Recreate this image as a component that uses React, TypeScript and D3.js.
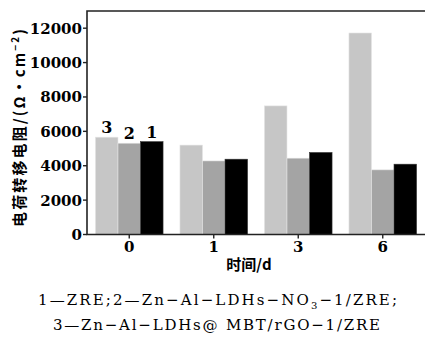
import * as d3 from "d3";

const days = ["0", "1", "3", "6"];
const seriesKeys = ["3", "2", "1"];
const seriesColors = ["#c6c6c6", "#a4a4a4", "#000000"];
// values per day, order: series 3, 2, 1
const series3 = [5660, 5200, 7480, 11720];
const series2 = [5310, 4280, 4440, 3760];
const series1 = [5400, 4380, 4770, 4090];
const yTicks = [0, 2000, 4000, 6000, 8000, 10000, 12000];

const width = 425;
const height = 359;
const plot = { left: 87, right: 425, top: 11, bottom: 234.5 };
const serif = "'DejaVu Serif', 'Liberation Serif', serif";
const cjk = "'Noto Sans CJK SC', sans-serif";

export default function App() {
  const values = [series3, series2, series1];

  const x = d3.scaleBand<string>()
    .domain(days)
    .range([plot.left, plot.right])
    .paddingInner(0.2)
    .paddingOuter(0.1);

  const xInner = d3.scaleBand<string>()
    .domain(seriesKeys)
    .range([0, x.bandwidth()]);

  const y = d3.scaleLinear().domain([0, 13000]).range([plot.bottom, plot.top]);

  return (
    <svg
      width={width}
      height={height}
      style={{ position: "absolute", left: 0, top: 0, background: "#fff" }}
    >
      {/* bars */}
      {days.map((d, i) => (
        <g key={d} transform={`translate(${x(d)},0)`}>
          {seriesKeys.map((k, j) => (
            <rect
              key={k}
              x={xInner(k)}
              y={y(values[j][i])}
              width={xInner.bandwidth()}
              height={plot.bottom - y(values[j][i])}
              fill={seriesColors[j]}
              stroke={j === 2 ? "#333" : "#e4e4e4"}
              strokeWidth={0.6}
            />
          ))}
        </g>
      ))}

      {/* series labels above first group */}
      {seriesKeys.map((k, j) => (
        <text
          key={k}
          x={(x(days[0]) ?? 0) + (xInner(k) ?? 0) + xInner.bandwidth() / 2}
          y={y(values[j][0]) - 4}
          textAnchor="middle"
          fontFamily={serif}
          fontWeight={700}
          fontSize={16}
        >
          {k}
        </text>
      ))}

      {/* frame */}
      <path
        d={`M${plot.right + 2},${plot.top}H${plot.left}V${plot.bottom}H${plot.right + 2}`}
        fill="none"
        stroke="#222"
        strokeWidth={1.6}
      />

      {/* y axis */}
      {yTicks.map((t) => (
        <g key={t} transform={`translate(0,${y(t)})`}>
          <line x1={plot.left - 4} x2={plot.left} stroke="#222" strokeWidth={1.4} />
          <text
            x={plot.left - 5}
            dy="0.36em"
            textAnchor="end"
            fontFamily={serif}
            fontWeight={700}
            fontSize={15}
          >
            {t}
          </text>
        </g>
      ))}

      {/* x axis */}
      {days.map((d) => {
        const cx = (x(d) ?? 0) + x.bandwidth() / 2;
        return (
          <g key={d}>
            <line x1={cx} x2={cx} y1={plot.bottom} y2={plot.bottom + 4} stroke="#222" strokeWidth={1.4} />
            <text
              x={cx}
              y={plot.bottom + 17}
              textAnchor="middle"
              fontFamily={serif}
              fontWeight={700}
              fontSize={15}
            >
              {d}
            </text>
          </g>
        );
      })}

      <text
        x={249}
        y={270}
        textAnchor="middle"
        fontFamily={cjk}
        fontWeight={700}
        fontSize={15}
      >
        时间/d
      </text>

      <text
        transform="translate(25,128) rotate(-90)"
        textAnchor="middle"
        fontFamily={cjk}
        fontWeight={700}
        fontSize={15}
        textLength={198}
        lengthAdjust="spacing"
      >
        电荷转移电阻/(Ω·cm
        <tspan dy={-6} fontSize={10}>−2</tspan>
        <tspan dy={6}>)</tspan>
      </text>

      {/* caption */}
      <text
        x={38}
        y={305}
        fontFamily={serif}
        fontSize={15}
        textLength={359}
        lengthAdjust="spacing"
      >
        1—ZRE;2—Zn−Al−LDHs−NO<tspan dy={4} fontSize={10}>3</tspan>
        <tspan dy={-4}>−1/ZRE;</tspan>
      </text>
      <text
        x={53}
        y={330}
        fontFamily={serif}
        fontSize={15}
        textLength={327}
        lengthAdjust="spacing"
      >
        3—Zn−Al−LDHs@ MBT/rGO−1/ZRE
      </text>
    </svg>
  );
}
